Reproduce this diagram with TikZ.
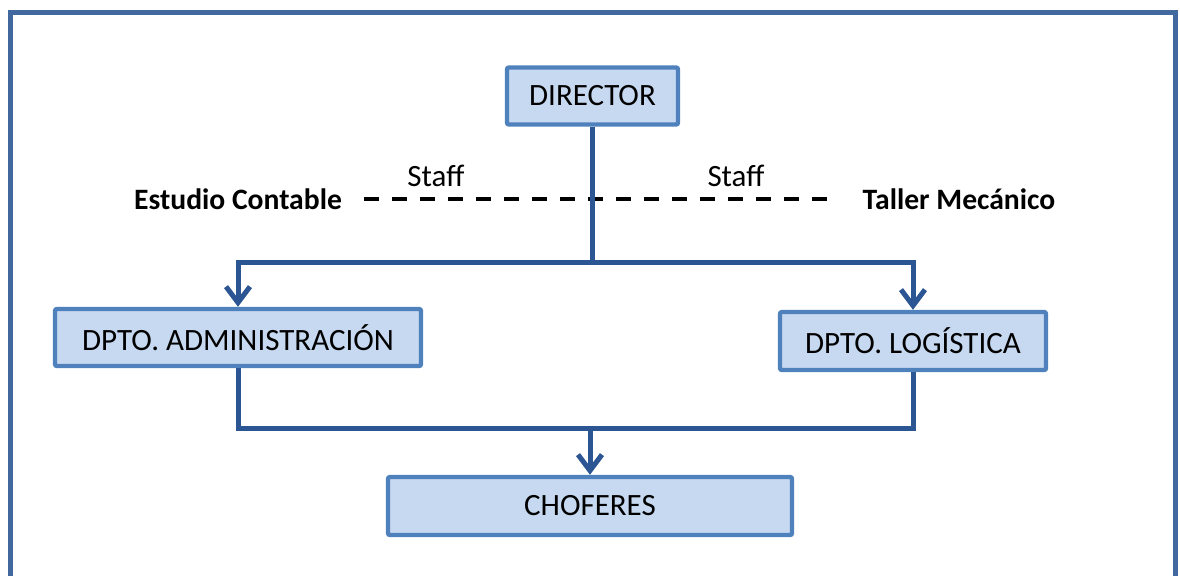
\documentclass[tikz,border=0pt]{standalone}
\usepackage{fontspec}
\setmainfont{Carlito}
\usepackage{tikz}
\usetikzlibrary{arrows.meta}
\definecolor{boxfill}{HTML}{C6D9F1}
\definecolor{boxline}{HTML}{4F81BD}
\definecolor{linkcol}{HTML}{2B5593}
\definecolor{framecol}{HTML}{41689F}

\begin{document}
\begin{tikzpicture}[x=0.5pt,y=-0.5pt,
  box/.style={draw=boxline, fill=boxfill, line width=2.2pt, rounded corners=1pt,
    inner sep=0pt, font=\fontsize{15.5}{18}\selectfont},
  link/.style={draw=linkcol, line width=2.5pt},
  tip/.style={-{Straight Barb[length=8pt,width=12pt,line width=2.5pt]}},
  side/.style={font=\fontsize{14.8}{18}\selectfont\bfseries},
  staffl/.style={font=\fontsize{15.5}{18}\selectfont},
  dashline/.style={line width=2pt, dash pattern=on 7.5pt off 6.5pt}]
\useasboundingbox (0,0) rectangle (1180,575);
\draw[framecol, line width=2.5pt] (10.5,600) -- (10.5,12.5) -- (1175,12.5) -- (1175,600);

\node[box, minimum width=85.5pt, minimum height=28.5pt] (dir) at (592.5,96) {DIRECTOR};

\node[side] (est) at (238,199) {Estudio Contable};
\node[side] (tal) at (959,199) {Taller Mecánico};
	\node[staffl] (s1) at (436,176) {Staff};
	\node[staffl] (s2) at (736,176) {Staff};

\node[box, minimum width=183pt, minimum height=28.5pt] (adm) at (238,337.5) {DPTO. ADMINISTRACIÓN};
\node[box, minimum width=133pt, minimum height=29pt] (log) at (913,341) {DPTO. LOGÍSTICA};
\node[box, minimum width=202pt, minimum height=29pt] (cho) at (590,506) {CHOFERES};

\coordinate (top) at (592.5,262);
\coordinate (bot) at (590,428);

\draw[dashline] ([xshift=7.5pt]est.east) -- ([xshift=-14pt]tal.west);

\draw[link] (dir) -- (top);
\draw[link,tip] (top) -| (adm);
\draw[link,tip] (top) -| (log);

\draw[link] (adm) |- (bot);
\draw[link] (log) |- (bot);
\draw[link,tip] (bot) -- (cho);

\end{tikzpicture}
\end{document}
